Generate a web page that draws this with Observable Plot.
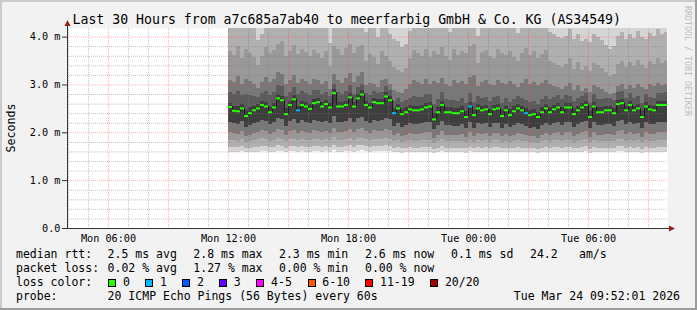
<!DOCTYPE html>
<html>
<head>
<meta charset="utf-8">
<script src="https://cdn.jsdelivr.net/npm/d3@7"></script>
<script src="https://cdn.jsdelivr.net/npm/@observablehq/plot@0.6"></script>
<style>
  html, body { margin: 0; padding: 0; background: #f2f2f2; }
  #chart { width: 697px; height: 310px; overflow: hidden; }
  #chart svg { display: block; }
</style>
</head>
<body>
<div id="chart"></div>
<script>
const FONT = "DejaVu Sans Mono";

// ---------- axes (time = hours since Mon 00:00) ----------
const xStart = 3.95, xEnd = 33.95;      // Last 30 hours
const yTop = 4.18;                       // ms
const firstColumn = 12;                  // Mon 12:00
const columnHours = 0.2;                 // 12-minute steps
const xTickValues = [6, 12, 18, 24, 30];
const xTickLabels = ["Mon 06:00", "Mon 12:00", "Mon 18:00", "Tue 00:00", "Tue 06:00"];
const yTickValues = [0, 1, 2, 3, 4];
const yTickLabels = ["0.0", "1.0 m", "2.0 m", "3.0 m", "4.0 m"];

// ---------- median rtt per column (ms) ----------
const median = [
  2.54, 2.46, 2.45, 2.51, 2.35, 2.41, 2.47, 2.51, 2.58, 2.55,
  2.43, 2.53, 2.72, 2.68, 2.39, 2.58, 2.70, 2.47, 2.58, 2.55,
  2.50, 2.62, 2.64, 2.55, 2.60, 2.53, 2.83, 2.55, 2.55, 2.58,
  2.74, 2.55, 2.72, 2.80, 2.58, 2.53, 2.64, 2.62, 2.62, 2.76,
  2.68, 2.41, 2.51, 2.39, 2.43, 2.49, 2.47, 2.47, 2.49, 2.53,
  2.55, 2.28, 2.43, 2.58, 2.43, 2.43, 2.41, 2.41, 2.45, 2.33,
  2.55, 2.37, 2.51, 2.47, 2.49, 2.39, 2.49, 2.51, 2.35, 2.47,
  2.37, 2.45, 2.51, 2.47, 2.41, 2.37, 2.39, 2.33, 2.43, 2.51,
  2.43, 2.49, 2.53, 2.43, 2.53, 2.53, 2.39, 2.47, 2.53, 2.58,
  2.33, 2.55, 2.43, 2.43, 2.47, 2.47, 2.41, 2.60, 2.62, 2.47,
  2.58, 2.47, 2.51, 2.33, 2.55, 2.49, 2.47, 2.58, 2.58, 2.58
];

// ---------- lost pings per column (of 20) ----------
const lossCount = [
  0,0,0,0,0,0,0,0,0,0,
  0,0,0,0,0,0,0,1,0,0,
  0,0,0,0,0,0,0,0,0,0,
  0,0,0,0,0,0,0,0,0,0,
  0,1,0,0,0,0,0,0,0,0,
  0,0,0,0,0,0,0,0,0,0,
  1,0,0,0,0,0,0,0,0,0,
  0,0,0,0,1,0,0,0,0,0,
  0,0,0,0,0,0,0,0,0,0,
  0,0,0,0,0,0,0,0,0,0,
  0,0,0,0,0,0,0,0,0,0
];

// ---------- smoke: ping distribution band edges per column (ms) ----------
const pingMin = [
  1.59,1.58,1.59,1.60,1.58,1.58,1.59,1.59,1.60,1.60,
  1.59,1.59,1.61,1.60,1.58,1.60,1.60,1.59,1.60,1.59,
  1.59,1.60,1.60,1.59,1.60,1.59,1.62,1.59,1.59,1.60,
  1.61,1.59,1.61,1.62,1.60,1.59,1.60,1.60,1.60,1.61,
  1.60,1.58,1.59,1.57,1.58,1.59,1.58,1.58,1.59,1.59,
  1.59,1.57,1.58,1.60,1.58,1.58,1.58,1.58,1.58,1.57,
  1.60,1.58,1.59,1.58,1.59,1.58,1.59,1.59,1.58,1.58,
  1.58,1.58,1.59,1.58,1.58,1.58,1.58,1.57,1.58,1.59,
  1.58,1.59,1.59,1.58,1.59,1.59,1.58,1.58,1.59,1.60,
  1.57,1.59,1.58,1.58,1.58,1.58,1.58,1.60,1.60,1.58,
  1.59,1.58,1.59,1.57,1.59,1.58,1.58,1.59,1.59,1.59
];
const lowB = [
  1.70,1.69,1.69,1.71,1.67,1.68,1.70,1.70,1.72,1.71,
  1.69,1.70,1.73,1.72,1.68,1.71,1.72,1.69,1.71,1.70,
  1.69,1.72,1.71,1.70,1.71,1.69,1.74,1.70,1.70,1.71,
  1.73,1.70,1.73,1.74,1.71,1.69,1.72,1.71,1.71,1.73,
  1.72,1.68,1.69,1.67,1.68,1.69,1.68,1.68,1.69,1.70,
  1.70,1.66,1.68,1.71,1.68,1.68,1.68,1.68,1.68,1.67,
  1.70,1.67,1.69,1.68,1.69,1.67,1.69,1.69,1.67,1.68,
  1.67,1.68,1.69,1.68,1.68,1.67,1.67,1.66,1.68,1.69,
  1.68,1.69,1.70,1.68,1.70,1.70,1.67,1.68,1.70,1.71,
  1.66,1.70,1.68,1.68,1.68,1.68,1.68,1.71,1.72,1.68,
  1.70,1.68,1.69,1.66,1.70,1.68,1.68,1.70,1.70,1.70
];
const lowD = [
  1.84,1.83,1.82,1.86,1.80,1.82,1.84,1.85,1.88,1.86,
  1.82,1.84,1.88,1.87,1.81,1.86,1.87,1.83,1.86,1.84,
  1.83,1.87,1.86,1.84,1.86,1.83,1.90,1.84,1.84,1.86,
  1.88,1.84,1.88,1.89,1.86,1.83,1.87,1.86,1.86,1.88,
  1.87,1.81,1.83,1.80,1.82,1.83,1.82,1.82,1.83,1.84,
  1.84,1.78,1.82,1.86,1.82,1.82,1.81,1.81,1.82,1.79,
  1.84,1.80,1.83,1.82,1.83,1.80,1.83,1.83,1.80,1.82,
  1.80,1.82,1.83,1.82,1.81,1.80,1.80,1.78,1.82,1.83,
  1.82,1.83,1.84,1.82,1.84,1.84,1.80,1.82,1.84,1.86,
  1.79,1.84,1.82,1.82,1.82,1.82,1.81,1.86,1.87,1.82,
  1.84,1.82,1.83,1.79,1.84,1.82,1.82,1.84,1.84,1.84
];
const lowE = [
  2.00,1.98,1.96,2.02,1.92,1.95,1.98,2.00,2.04,2.02,
  1.96,2.00,2.06,2.04,1.94,2.02,2.04,1.98,2.02,2.00,
  1.98,2.04,2.02,2.00,2.02,1.98,2.08,2.00,2.00,2.02,
  2.06,2.00,2.06,2.08,2.02,1.98,2.04,2.02,2.02,2.06,
  2.04,1.94,1.98,1.92,1.95,1.98,1.96,1.96,1.98,2.00,
  2.00,1.88,1.95,2.02,1.95,1.95,1.94,1.94,1.96,1.90,
  2.00,1.92,1.98,1.96,1.98,1.92,1.98,1.98,1.92,1.96,
  1.92,1.95,1.98,1.96,1.94,1.92,1.92,1.88,1.95,1.98,
  1.95,1.98,2.00,1.95,2.00,2.00,1.92,1.96,2.00,2.02,
  1.90,2.00,1.95,1.95,1.96,1.96,1.94,2.02,2.04,1.96,
  2.00,1.96,1.98,1.90,2.00,1.96,1.96,2.00,2.00,2.00
];
const lowDark = [
  2.22,2.20,2.18,2.24,2.12,2.16,2.20,2.22,2.26,2.24,
  2.18,2.22,2.30,2.28,2.14,2.24,2.28,2.20,2.26,2.22,
  2.20,2.26,2.24,2.22,2.24,2.20,2.34,2.22,2.22,2.24,
  2.30,2.22,2.30,2.32,2.24,2.20,2.26,2.24,2.26,2.30,
  2.28,2.14,2.20,2.12,2.16,2.20,2.18,2.18,2.20,2.22,
  2.22,2.06,2.16,2.24,2.16,2.16,2.14,2.14,2.18,2.08,
  2.22,2.10,2.20,2.18,2.20,2.12,2.20,2.20,2.10,2.18,
  2.12,2.16,2.20,2.18,2.14,2.10,2.12,2.06,2.16,2.20,
  2.16,2.20,2.22,2.16,2.22,2.22,2.12,2.18,2.22,2.24,
  2.08,2.22,2.16,2.16,2.18,2.18,2.14,2.24,2.26,2.18,
  2.22,2.18,2.20,2.08,2.22,2.18,2.18,2.22,2.22,2.22
];
const upG = [
  2.62,2.56,2.54,2.60,2.46,2.52,2.56,2.60,2.66,2.64,
  2.52,2.62,2.80,2.76,2.50,2.66,2.78,2.56,2.66,2.64,
  2.60,2.70,2.72,2.64,2.68,2.62,2.90,2.64,2.64,2.66,
  2.82,2.64,2.80,2.88,2.66,2.62,2.72,2.70,2.70,2.84,
  2.76,2.50,2.60,2.48,2.52,2.58,2.56,2.56,2.58,2.62,
  2.64,2.40,2.52,2.66,2.52,2.52,2.50,2.50,2.54,2.44,
  2.64,2.46,2.60,2.56,2.58,2.48,2.58,2.60,2.46,2.56,
  2.48,2.54,2.60,2.56,2.50,2.46,2.48,2.42,2.52,2.60,
  2.52,2.58,2.62,2.52,2.62,2.62,2.48,2.56,2.62,2.66,
  2.44,2.64,2.52,2.52,2.56,2.56,2.50,2.68,2.70,2.56,
  2.66,2.56,2.60,2.44,2.64,2.58,2.56,2.66,2.66,2.66
];
const upF = [
  2.84,2.80,2.86,2.78,2.80,2.78,2.76,2.74,2.82,2.86,
  2.78,2.84,2.98,2.96,2.76,2.84,2.94,2.80,2.86,2.82,
  2.78,2.88,2.88,2.80,2.84,2.76,3.02,2.84,2.80,2.86,
  2.98,2.80,2.94,3.02,2.82,2.78,2.86,2.82,2.84,2.96,
  2.88,2.66,2.72,2.64,2.68,2.72,2.76,2.74,2.74,2.80,
  2.80,2.60,2.70,2.84,2.70,2.68,2.68,2.66,2.72,2.62,
  2.82,2.64,2.76,2.72,2.74,2.66,2.74,2.76,2.62,2.72,
  2.64,2.70,2.76,2.72,2.68,2.64,2.66,2.60,2.70,2.76,
  2.70,2.74,2.78,2.70,2.78,2.76,2.66,2.72,2.76,2.82,
  2.62,2.80,2.70,2.70,2.72,2.72,2.68,2.84,2.86,2.72,
  2.82,2.72,2.76,2.62,2.80,2.74,2.72,2.82,2.82,2.84
];
const upE = [
  3.10,3.05,3.18,3.00,3.12,3.08,3.02,2.92,3.05,3.15,
  3.06,3.12,3.25,3.22,3.00,3.10,3.20,3.04,3.12,3.08,
  3.02,3.12,3.10,3.00,3.08,2.90,3.22,3.10,3.04,3.14,
  3.24,3.06,3.18,3.26,2.98,3.04,3.02,2.94,3.10,3.12,
  3.00,2.88,2.85,2.82,2.90,3.00,3.10,3.06,3.02,3.12,
  3.00,3.08,3.04,3.14,3.02,2.96,3.10,3.04,3.08,3.02,
  3.16,3.20,2.96,3.06,3.10,3.02,2.98,3.10,3.04,3.02,
  3.08,3.00,2.94,3.04,3.12,3.02,3.06,2.98,3.04,3.10,
  3.00,2.96,2.94,2.90,2.96,3.04,2.88,2.98,2.86,2.92,
  2.84,2.98,2.94,2.90,2.84,2.80,2.82,2.96,3.02,2.90,
  2.98,2.92,3.02,2.94,2.90,3.00,2.96,3.04,2.98,3.02
];
const upD = [
  3.70,3.62,3.80,3.55,3.75,3.66,3.58,3.40,3.60,3.78,
  3.65,3.72,3.85,3.90,3.60,3.70,3.82,3.64,3.75,3.68,
  3.60,3.72,3.66,3.55,3.70,3.38,3.80,3.74,3.62,3.76,
  3.85,3.66,3.78,3.82,3.50,3.64,3.58,3.42,3.70,3.60,
  3.48,3.36,3.30,3.25,3.35,3.55,3.72,3.66,3.60,3.75,
  3.58,3.70,3.64,3.78,3.60,3.52,3.74,3.62,3.70,3.66,
  3.80,3.85,3.45,3.68,3.72,3.60,3.56,3.74,3.66,3.62,
  3.70,3.58,3.48,3.66,3.76,3.62,3.70,3.55,3.64,3.72,
  3.50,3.44,3.40,3.36,3.42,3.55,3.32,3.46,3.30,3.38,
  3.28,3.45,3.40,3.34,3.25,3.18,3.22,3.42,3.50,3.36,
  3.46,3.38,3.52,3.40,3.34,3.48,3.42,3.55,3.45,3.50
];
const upB = [
  4.30,4.25,4.40,4.22,4.35,4.28,4.20,3.92,4.05,4.30,
  4.25,4.38,4.30,4.45,4.26,4.33,4.40,4.22,4.30,4.35,
  4.28,4.24,4.30,4.18,4.26,3.86,4.35,4.30,4.20,4.33,
  4.40,4.26,4.35,4.30,4.10,4.28,4.22,4.00,4.30,4.25,
  4.05,3.95,3.90,3.78,3.85,4.12,4.30,4.26,4.20,4.35,
  4.22,4.30,4.28,4.35,4.20,4.10,4.30,4.25,4.32,4.28,
  4.35,4.40,4.02,4.26,4.30,4.22,4.18,4.32,4.28,4.25,
  4.30,4.22,4.08,4.28,4.35,4.25,4.30,4.20,4.26,4.32,
  4.10,4.05,4.00,3.98,4.02,4.15,3.95,4.05,3.90,3.96,
  3.88,4.06,4.00,3.92,3.82,3.75,3.80,4.02,4.10,3.96,
  4.05,3.98,4.12,4.00,3.94,4.08,4.02,4.15,4.05,4.10
];

// ---------- loss colour legend ----------
const lossLabels = ["0", "1", "2", "3", "4-5", "6-10", "11-19", "20/20"];
const lossMax    = [0, 1, 2, 3, 5, 10, 19, 20];
const lossColors = ["#26ff00", "#00b8ff", "#0059ff", "#5e00ff", "#ff00ff", "#ff5500", "#ff0000", "#a00000"];

// ---------- legend texts ----------
const titleText = "Last 30 Hours from a7c685a7ab40 to meerfarbig GmbH & Co. KG (AS34549)";
const rttStats = ["2.5 ms avg", "2.8 ms max", "2.3 ms min", "2.6 ms now", "0.1 ms sd", "24.2", "am/s"];
const lossStats = ["0.02 % avg", "1.27 % max", "0.00 % min", "0.00 % now"];
const probeText = "20 ICMP Echo Pings (56 Bytes) every 60s";
const stampText = "Tue Mar 24 09:52:01 2026";

// ---------- build mark data ----------
const lossColor = c => lossColors[lossMax.findIndex(t => c <= t)];
const cols = median.map((m, i) => ({
  x1: firstColumn + i * columnHours,
  x2: firstColumn + (i + 1) * columnHours,
  m, prev: i > 0 ? median[i - 1] : m,
  color: lossColor(lossCount[i])
}));

const layerSpecs = [
  [pingMin, null, "#d5d5d5"],
  [lowB, upB, "#b0b0b0"],
  [lowD, upD, "#999999"],
  [lowE, upE, "#787878"],
  [lowDark, upF, "#5b5b5b"],
  [lowDark, upG, "#3e3e3e"]
];
const smoke = [];
layerSpecs.forEach(([lo, hi, color]) => {
  lo.forEach((v, i) => smoke.push({
    x1: cols[i].x1, x2: cols[i].x2, y1: v, y2: hi ? hi[i] : yTop, color
  }));
});

const hourGrid = d3.range(Math.ceil(xStart), Math.floor(xEnd) + 1);
const majorX = hourGrid.filter(h => h % 3 === 0);
const minorX = hourGrid.filter(h => h % 3 !== 0);
const yGrid = d3.range(1, Math.floor(yTop * 5) + 1);
const majorY = yGrid.filter(k => k % 5 === 0).map(k => k / 5);
const minorY = yGrid.filter(k => k % 5 !== 0).map(k => k / 5);

const plot = Plot.plot({
  width: 697, height: 310,
  marginLeft: 67, marginRight: 30, marginTop: 28, marginBottom: 82,
  style: {background: "#f2f2f2", fontFamily: FONT, overflow: "visible"},
  x: {domain: [xStart, xEnd]},
  y: {domain: [0, yTop]},
  color: {type: "identity"},
  marks: [
    Plot.frame({fill: "#ffffff", stroke: null}),
    Plot.rect(smoke, {x1: "x1", x2: "x2", y1: "y1", y2: "y2", fill: "color", clip: true, shapeRendering: "crispEdges"}),
    Plot.ruleX(minorX, {stroke: "#7a7a7a", strokeOpacity: 0.45, strokeDasharray: "1,1"}),
    Plot.ruleY(minorY, {stroke: "#7a7a7a", strokeOpacity: 0.45, strokeDasharray: "1,1"}),
    Plot.ruleX(majorX, {stroke: "#ff4040", strokeOpacity: 0.42, strokeDasharray: "1,1"}),
    Plot.ruleY(majorY, {stroke: "#ff4040", strokeOpacity: 0.42, strokeDasharray: "1,1"}),
    Plot.ruleX(cols.slice(1), {x: "x1", y1: "prev", y2: "m", stroke: "#1c1c1c", strokeWidth: 1, clip: true}),
    Plot.ruleY(cols, {y: "m", x1: "x1", x2: "x2", stroke: "color", strokeWidth: 2, clip: true}),
    Plot.ruleX([xStart], {y1: 0, y2: yTop, stroke: "#333333"}),
    Plot.ruleY([0], {x1: xStart, x2: xEnd, stroke: "#333333"}),
    Plot.axisX(xTickValues, {
      tickFormat: d => xTickLabels[xTickValues.indexOf(d)],
      tickSize: 0, tickPadding: 5.8, fontSize: 10.2, fontFamily: FONT, label: null
    }),
    Plot.axisY(yTickValues, {
      tickFormat: d => yTickLabels[yTickValues.indexOf(d)],
      tickSize: 5, tickPadding: 2, fontSize: 10.2, fontFamily: FONT, label: null, stroke: "#333333"
    })
  ]
});

document.getElementById("chart").appendChild(plot);

// ---------- decorations, title and legend ----------
const svg = d3.select(plot);
const sx = plot.scale("x"), sy = plot.scale("y");
const X0 = sx.apply(xStart) + 0.5, X1 = sx.apply(xEnd), Y0 = sy.apply(0) + 0.5, YT = sy.apply(yTop);

// frame shading
svg.append("rect").attr("x", 0).attr("y", 0).attr("width", 697).attr("height", 2).attr("fill", "#cbcbcb");
svg.append("rect").attr("x", 0).attr("y", 0).attr("width", 2).attr("height", 310).attr("fill", "#cbcbcb");
svg.append("rect").attr("x", 695).attr("y", 0).attr("width", 2).attr("height", 310).attr("fill", "#9c9c9c");
svg.append("rect").attr("x", 0).attr("y", 308).attr("width", 697).attr("height", 2).attr("fill", "#9c9c9c");

// axis arrows
svg.append("line").attr("x1", X0).attr("x2", X0).attr("y1", YT).attr("y2", YT - 3).attr("stroke", "#333");
svg.append("path").attr("d", `M${X0 - 3},${YT - 2}L${X0 + 3},${YT - 2}L${X0},${YT - 8}Z`).attr("fill", "#9b1c1c");
svg.append("line").attr("x1", X1).attr("x2", X1 + 2).attr("y1", Y0).attr("y2", Y0).attr("stroke", "#333");
svg.append("path").attr("d", `M${X1 + 2},${Y0 - 3}L${X1 + 2},${Y0 + 3}L${X1 + 8},${Y0}Z`).attr("fill", "#9b1c1c");

const textLayer = svg.append("g").attr("text-anchor", "start");
function txt(x, y, s, o = {}) {
  const t = textLayer.append("text")
    .attr("x", x).attr("y", y)
    .attr("font-family", FONT)
    .attr("font-size", o.size || 11.5)
    .attr("fill", o.fill || "#000")
    .attr("text-anchor", o.anchor || "start")
    .text(s);
  if (o.len) t.attr("textLength", o.len).attr("lengthAdjust", "spacingAndGlyphs");
  if (o.transform) t.attr("transform", o.transform).attr("x", 0).attr("y", 0);
  return t;
}

txt(72.5, 24, titleText, {size: 13.4, len: 548.5});
txt(0, 0, "Seconds", {size: 11.6, anchor: "middle", transform: "translate(15,128) rotate(-90)"});
txt(0, 0, "RRDTOOL / TOBI OETIKER", {size: 8.6, fill: "#bdbdbd", len: 110, transform: "translate(685,6) rotate(90)"});

const rowY = [258, 271.7, 286, 299.7];
const rttX = [107.6, 193.3, 279, 365, 451, 530, 579];
txt(16, rowY[0], "median rtt:");
rttStats.forEach((s, i) => txt(rttX[i], rowY[0], s));
txt(16, rowY[1], "packet loss:");
lossStats.forEach((s, i) => txt(rttX[i], rowY[1], s));
txt(16, rowY[2], "loss color:");
const swatchX = [108.4, 145.3, 182.2, 219.1, 256.4, 307.6, 365.3, 430.2];
lossLabels.forEach((s, i) => {
  textLayer.append("rect")
    .attr("x", Math.round(swatchX[i]) + 0.5).attr("y", 279.5)
    .attr("width", 7).attr("height", 7)
    .attr("fill", lossColors[i]).attr("stroke", "#000").attr("stroke-width", 1);
  txt(swatchX[i] + 14.7, rowY[2], s);
});
txt(16, rowY[3], "probe:");
txt(107.6, rowY[3], probeText);
txt(680, rowY[3], stampText, {anchor: "end"});
</script>
</body>
</html>
